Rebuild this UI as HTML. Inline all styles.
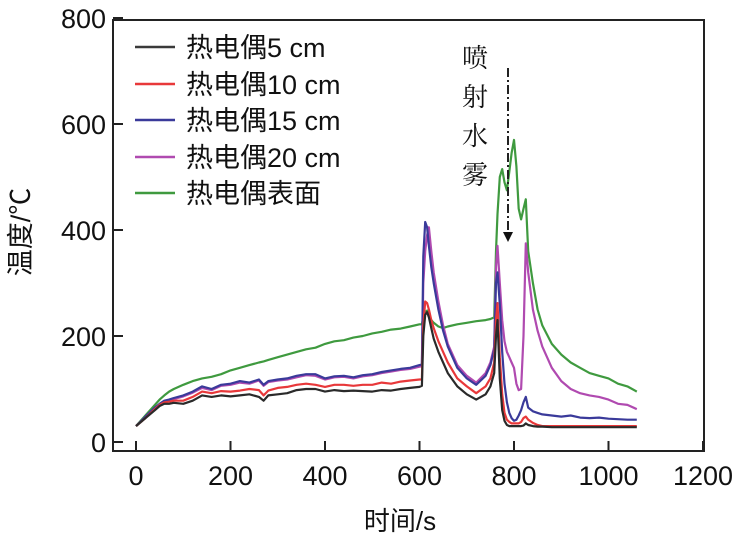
<!DOCTYPE html>
<html><head><meta charset="utf-8">
<style>
html,body{margin:0;padding:0;background:#fff;}
svg{display:block;}
text{font-family:"Liberation Sans","Noto Sans CJK SC",sans-serif;fill:#111;}
</style></head>
<body>
<svg id="chart" width="743" height="540" viewBox="0 0 743 540">
  <rect x="113" y="20" width="591" height="431" fill="none" stroke="#222" stroke-width="2"/>
  <g id="ticks"></g>
  <g id="series"></g>
  <text x="30" y="232" font-size="27" text-anchor="middle" transform="rotate(-90 30 232)">温度/℃</text>
  <text x="400" y="530" font-size="26" text-anchor="middle">时间/s</text>
  <g font-size="27">
    <line x1="135" y1="47" x2="175" y2="47" stroke="#3a3a3a" stroke-width="2.5"/>
    <text x="186" y="57">热电偶5 cm</text>
    <line x1="135" y1="84" x2="175" y2="84" stroke="#e8383a" stroke-width="2.5"/>
    <text x="186" y="94">热电偶10 cm</text>
    <line x1="135" y1="120" x2="175" y2="120" stroke="#3a3a9a" stroke-width="2.5"/>
    <text x="186" y="130">热电偶15 cm</text>
    <line x1="135" y1="157" x2="175" y2="157" stroke="#b04ab0" stroke-width="2.5"/>
    <text x="186" y="167">热电偶20 cm</text>
    <line x1="135" y1="193" x2="175" y2="193" stroke="#3f9a3f" stroke-width="2.5"/>
    <text x="186" y="203">热电偶表面</text>
  </g>
  <g font-size="26">
    <text x="475" y="67" text-anchor="middle" style="font-family:'Noto Serif CJK SC',serif">喷</text>
    <text x="475" y="106" text-anchor="middle" style="font-family:'Noto Serif CJK SC',serif">射</text>
    <text x="475" y="145" text-anchor="middle" style="font-family:'Noto Serif CJK SC',serif">水</text>
    <text x="475" y="184" text-anchor="middle" style="font-family:'Noto Serif CJK SC',serif">雾</text>
    <line x1="508" y1="68" x2="508" y2="232" stroke="#222" stroke-width="2" stroke-dasharray="9,3,2,3"/>
    <polygon points="503,232 513,232 508,242" fill="#111"/>
  </g>
</svg>
<script>
const times=[0,20,40,50,60,70,80,100,120,140,160,180,200,220,240,260,270,280,300,320,340,360,380,400,420,440,460,480,500,520,540,560,580,600,605,608,612,616,620,625,630,640,650,660,680,700,720,740,750,758,762,765,770,775,780,785,790,795,800,805,810,815,820,825,830,840,850,860,880,900,920,940,960,980,1000,1020,1040,1060];
const tc5=[30,45,60,68,72,72,74,72,78,88,85,88,86,88,90,85,78,88,90,92,98,100,100,95,98,96,97,96,95,98,97,100,102,104,106,200,240,245,235,215,195,170,150,130,105,90,80,90,105,130,200,230,120,60,40,32,30,30,30,30,30,30,31,35,32,30,29,29,28,28,28,28,28,28,28,28,28,28];
const tc10=[30,45,62,70,75,76,78,78,85,95,92,96,95,97,100,98,88,97,102,104,108,110,108,104,108,108,106,108,108,112,110,114,116,118,118,220,265,262,250,230,215,190,170,150,120,105,92,105,120,150,230,262,160,90,55,42,38,35,35,35,35,38,45,48,42,36,32,30,30,30,30,30,30,30,30,30,30,30];
const tc15=[30,48,65,72,78,80,83,88,95,105,100,108,110,115,112,118,108,115,118,120,125,128,128,120,124,125,122,126,128,132,135,138,140,145,146,350,415,405,370,330,300,250,210,180,140,120,108,125,145,175,300,320,260,170,110,75,55,45,40,42,50,60,75,85,65,58,55,52,50,48,50,46,45,46,44,43,42,42];
const tc20=[30,46,63,70,76,78,81,86,93,102,98,106,108,112,110,116,106,113,116,118,122,126,125,118,122,123,120,124,126,130,133,136,138,142,143,300,360,390,405,360,320,265,220,185,145,125,112,130,150,180,330,370,300,230,190,170,160,150,140,110,98,100,200,375,320,250,210,180,140,115,100,92,88,85,80,72,70,62];
const surface=[30,50,70,80,88,95,100,108,115,120,123,128,135,140,145,150,152,155,160,165,170,175,178,185,190,192,197,200,205,208,212,214,218,222,222,235,245,248,240,230,225,218,215,218,222,225,228,230,232,235,360,430,500,515,490,475,510,545,570,520,440,420,440,458,360,300,250,220,185,165,150,140,130,125,120,110,105,95];
const xTicks=[0,200,400,600,800,1000,1200];
const yTicks=[0,200,400,600,800];

const X=t=>136+t*0.4725;
const Y=v=>442-v*0.53;
const NS="http://www.w3.org/2000/svg";
const tg=document.getElementById('ticks');
xTicks.forEach(t=>{
  const l=document.createElementNS(NS,'line');
  l.setAttribute('x1',X(t));l.setAttribute('x2',X(t));l.setAttribute('y1',441);l.setAttribute('y2',451);
  l.setAttribute('stroke','#222');l.setAttribute('stroke-width','2');
  
  
  tg.appendChild(l);
  const tx=document.createElementNS(NS,'text');
  tx.setAttribute('x',X(t));tx.setAttribute('y',485);tx.setAttribute('font-size','27');tx.setAttribute('text-anchor','middle');
  tx.textContent=t;
  
  
  tg.appendChild(tx);
});
yTicks.forEach(v=>{
  const l=document.createElementNS(NS,'line');
  l.setAttribute('x1',113);l.setAttribute('x2',123);l.setAttribute('y1',Y(v));l.setAttribute('y2',Y(v));
  l.setAttribute('stroke','#222');l.setAttribute('stroke-width','2');
  
  
  tg.appendChild(l);
  const tx=document.createElementNS(NS,'text');
  tx.setAttribute('x',106);tx.setAttribute('y',Y(v)+10);tx.setAttribute('font-size','27');tx.setAttribute('text-anchor','end');
  tx.textContent=v;
  
  
  tg.appendChild(tx);
});
const sg=document.getElementById('series');
const defs=[[surface,'#3f9a3f','series-surface'],[tc20,'#b04ab0','series-20cm'],[tc15,'#3a3a9a','series-15cm'],[tc10,'#e8383a','series-10cm'],[tc5,'#2a2a2a','series-5cm']];
defs.forEach(([vals,col,name])=>{
  const p=document.createElementNS(NS,'polyline');
  p.setAttribute('points',times.map((t,i)=>X(t).toFixed(1)+','+Y(vals[i]).toFixed(1)).join(' '));
  p.setAttribute('fill','none');p.setAttribute('stroke',col);p.setAttribute('stroke-width','2.2');p.setAttribute('stroke-linejoin','round');
  
  
  sg.appendChild(p);
});
</script>
</body></html>
